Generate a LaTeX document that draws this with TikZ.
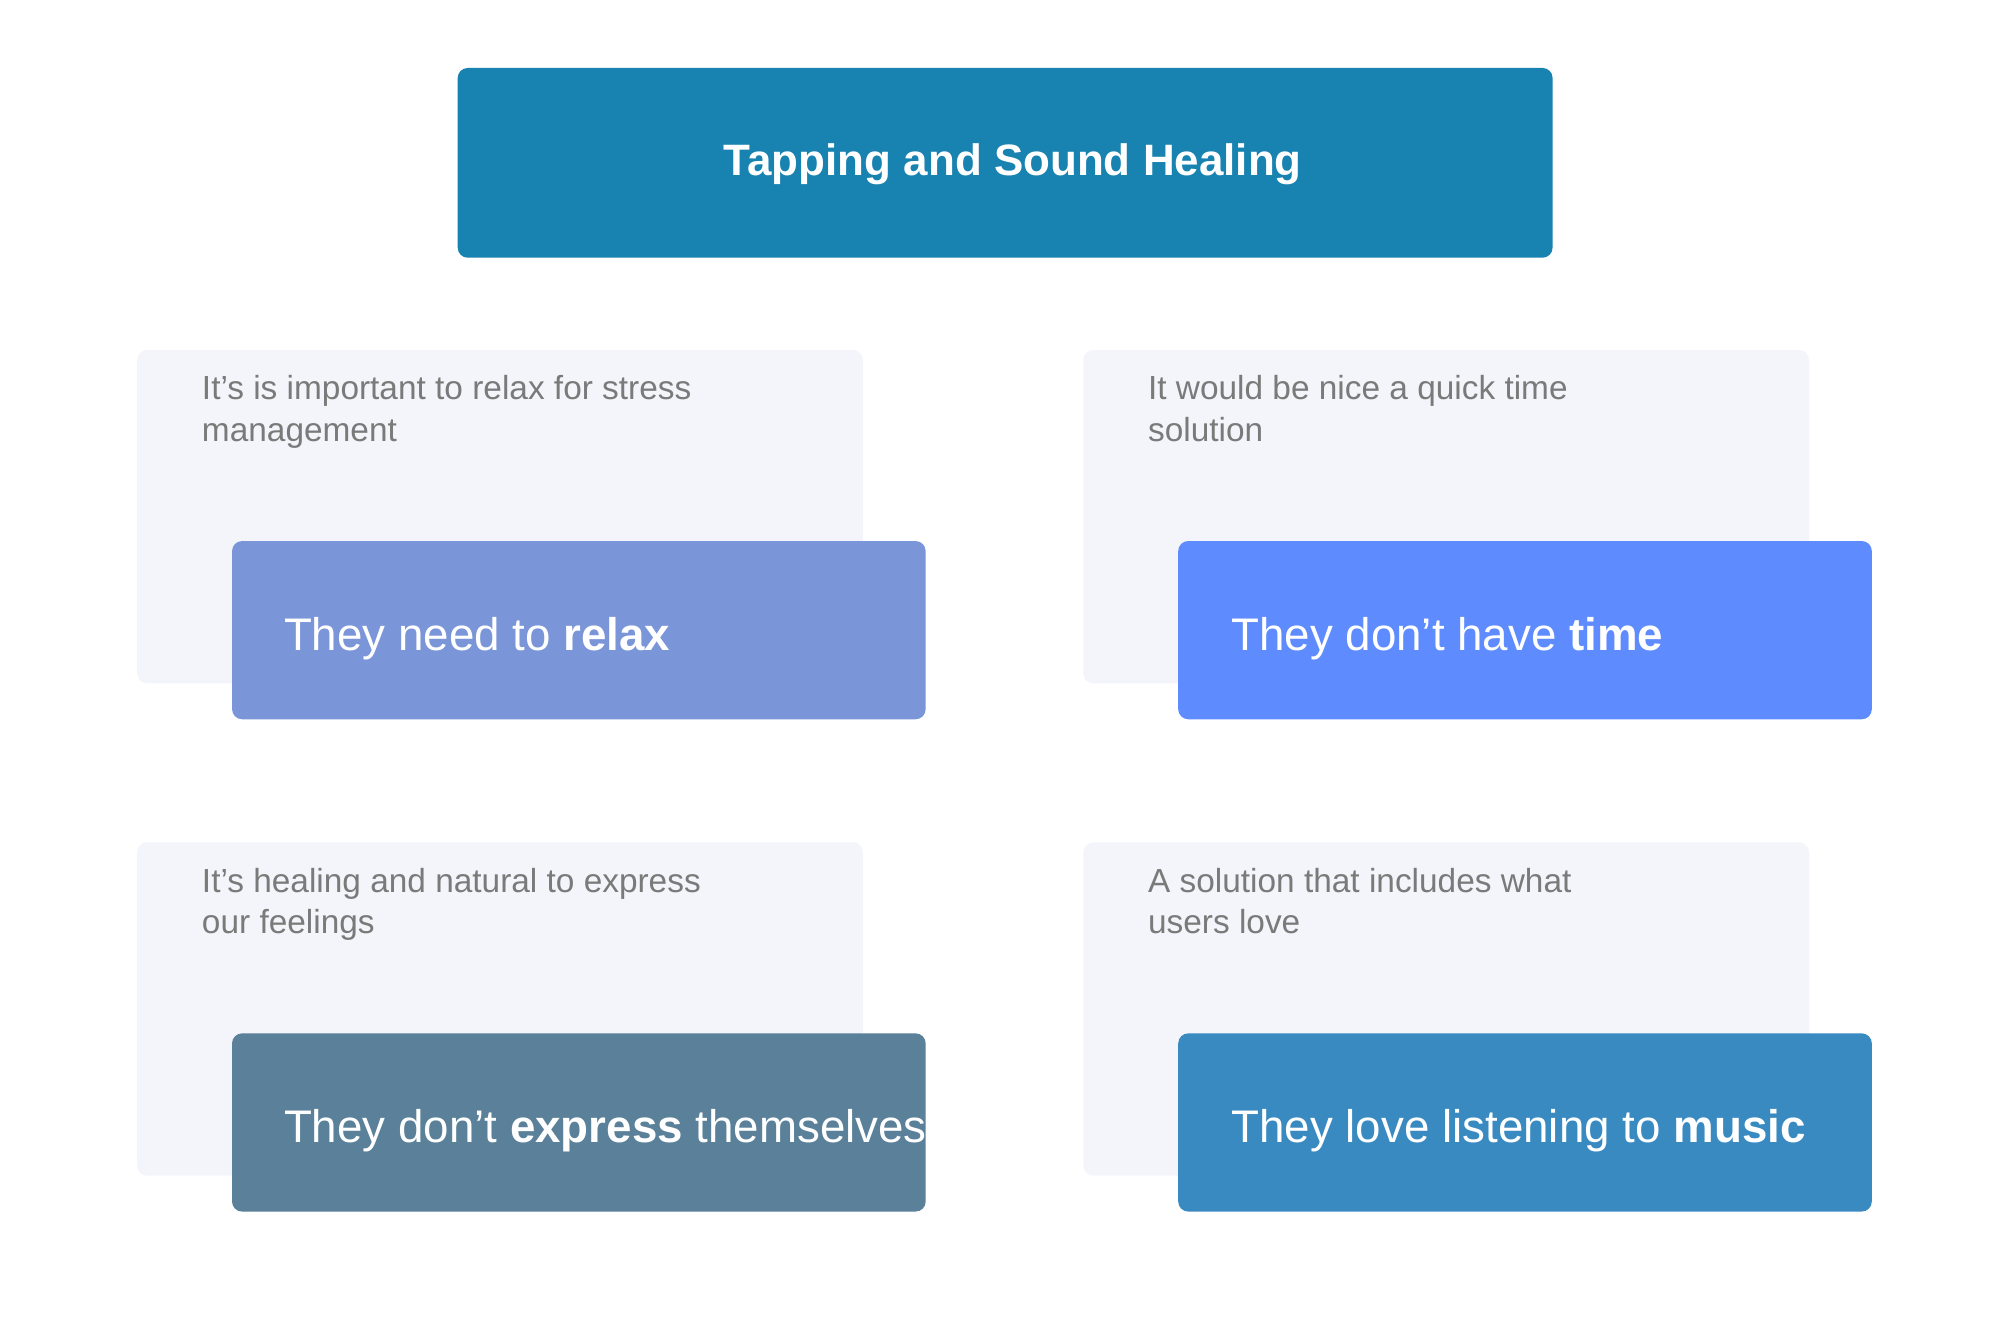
\documentclass[tikz,border=0pt]{standalone}
\usepackage{fontspec}
\setmainfont{Liberation Sans}
\definecolor{titlec}{HTML}{1883B0}
\definecolor{lightc}{HTML}{F4F5FA}
\definecolor{relaxc}{HTML}{7B96D8}
\definecolor{timec}{HTML}{5E8BFE}
\definecolor{exprc}{HTML}{5A8199}
\definecolor{musicc}{HTML}{3A8AC2}
\definecolor{grayt}{HTML}{7A7A7A}
\begin{document}
\begin{tikzpicture}[x=0.01282cm,y=-0.01282cm,
  lightbox/.style={fill=lightc,rounded corners=0.1cm},
  colbox/.style={rounded corners=0.1cm},
  smalltxt/.style={anchor=base west,text=grayt,font=\fontsize{9.5}{11.7}\selectfont,align=left,inner sep=0pt},
  bigtxt/.style={anchor=base west,text=white,font=\fontsize{13}{15}\selectfont,inner sep=0pt}]
\useasboundingbox (0,0) rectangle (1560,1030.4);
\fill[white] (0,0) rectangle (1560,1030.4);
\fill[titlec,rounded corners=0.1cm] (357,53) rectangle (1211,201);
\node[text=white,font=\fontsize{12.5}{15}\selectfont\bfseries] (title) at (790,128) {Tapping and Sound Healing};
% boxes
\foreach \x/\y/\c in {107/273/relaxc,845/273/timec,107/657/exprc,845/657/musicc}{
  \fill[lightbox] (\x,\y) rectangle ++(566,260);
  \fill[\c,colbox] (\x+74,\y+149) rectangle ++(541,139);
}
\node[smalltxt] (s1) at (157,344) {It’s is important to relax for stress\\management};
\node[smalltxt] (s2) at (895,344) {It would be nice a quick time\\solution};
\node[smalltxt] (s3) at (157,728) {It's healing and natural to express\\our feelings};
\node[smalltxt] (s4) at (895,728) {A solution that includes what\\users love};
\node[bigtxt] (b1) at (221,507) {They need to \textbf{relax}};
\node[bigtxt] (b2) at (960,507) {They don’t have \textbf{time}};
\node[bigtxt] (b3) at (221,891) {They don’t \textbf{express} themselves};
\node[bigtxt] (b4) at (960,891) {They love listening to \textbf{music}};
\end{tikzpicture}
\end{document}
